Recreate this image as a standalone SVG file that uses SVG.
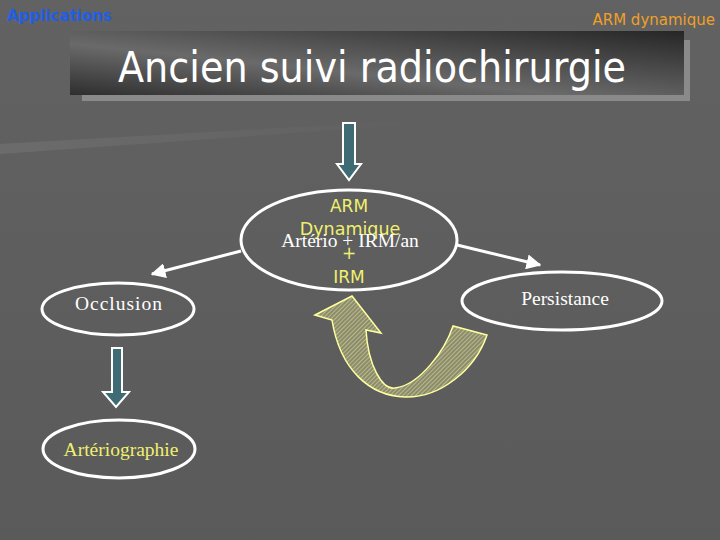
<svg xmlns="http://www.w3.org/2000/svg" width="720" height="540" viewBox="0 0 720 540">
<style>
.node{fill:none;stroke:#ffffff;stroke-width:3}
.serif{font-family:"Liberation Serif","DejaVu Serif",serif;font-size:19.5px;text-anchor:middle}
.sans{font-family:"DejaVu Sans","Liberation Sans",sans-serif;text-anchor:middle}
.conn{stroke:#ffffff;stroke-width:3;fill:none}
.block{fill:#3e6b74;stroke:#ffffff;stroke-width:2}
</style>
<defs>
<linearGradient id="bg" x1="0" y1="0" x2="0" y2="1">
<stop offset="0" stop-color="#626262"/>
<stop offset="1" stop-color="#5a5a5a"/>
</linearGradient>
<linearGradient id="band" x1="0" y1="0" x2="1" y2="0">
<stop offset="0" stop-color="#7a7a7a" stop-opacity="0.45"/>
<stop offset="1" stop-color="#7a7a7a" stop-opacity="0"/>
</linearGradient>
<linearGradient id="title" x1="0" y1="1" x2="1" y2="0">
<stop offset="0" stop-color="#2e2e2e"/>
<stop offset="0.4" stop-color="#6a6a6a"/>
<stop offset="1" stop-color="#262626"/>
</linearGradient>
<pattern id="hatch" width="3" height="3" patternUnits="userSpaceOnUse" patternTransform="rotate(45)">
<rect width="3" height="3" fill="#8c8c6c"/>
<line x1="0" y1="0" x2="0" y2="3" stroke="#d8d8a0" stroke-width="1.2"/>
</pattern>
<marker id="ah" viewBox="0 0 10 10" refX="9" refY="5" markerWidth="5" markerHeight="5" orient="auto" markerUnits="strokeWidth">
<path d="M0,0 L10,5 L0,10 Z" fill="#ffffff"/>
</marker>
</defs>
<rect width="720" height="540" fill="url(#bg)"/>
<polygon points="0,144 420,120 420,124 0,154" fill="url(#band)"/>

<text x="7" y="21" font-family="'DejaVu Sans','Liberation Sans',sans-serif" font-weight="bold" font-size="15" fill="#1f5ee6">Applications</text>
<text x="715" y="25" text-anchor="end" font-family="'DejaVu Sans','Liberation Sans',sans-serif" font-size="15" fill="#f0a028">ARM dynamique</text>

<g id="title-box">
<rect x="82" y="40" width="608" height="61" fill="#8a8a8a"/>
<rect x="70" y="31" width="614" height="64" fill="url(#title)"/>
<text x="118" y="82" font-family="'DejaVu Sans','Liberation Sans',sans-serif" font-size="43" fill="#ffffff" textLength="508" lengthAdjust="spacingAndGlyphs">Ancien suivi radiochirurgie</text>
</g>

<g id="connectors">
<path class="block" d="M343,123 H355 V164 H361 L349,180 L337,164 H343 Z"/>
<line class="conn" x1="241" y1="251" x2="152" y2="274" marker-end="url(#ah)"/>
<line class="conn" x1="457" y1="245" x2="540" y2="265" marker-end="url(#ah)"/>
<path class="block" d="M112,348 H122 V392 H129 L116,407 L103,392 H112 Z"/>
<path d="M315,315 L352,296 L381,333 L366,330 C368,365 382,390 395,388 C420,385 445,350 453,326 L487,335 C475,370 440,398 405,397 C370,396 340,370 332,320 Z" fill="url(#hatch)" stroke="#ffffa0" stroke-width="1.5"/>
</g>

<g id="node-center">
<ellipse class="node" cx="349" cy="240" rx="108" ry="50"/>
<text class="sans" x="349" y="212" font-size="17" fill="#f0f070">ARM</text>
<text class="sans" x="350" y="235" font-size="17.5" fill="#f0f070">Dynamique</text>
<text class="sans" x="349" y="259" font-size="17" fill="#f0f070">+</text>
<text class="sans" x="349" y="283" font-size="17" fill="#f0f070">IRM</text>
<text class="serif" x="350" y="247" fill="#ffffff">Artério + IRM/an</text>
</g>

<g id="node-occlusion">
<ellipse class="node" cx="118" cy="309" rx="76" ry="26"/>
<text class="serif" x="119" y="310" font-size="18" fill="#ffffff" letter-spacing="1">Occlusion</text>
</g>

<g id="node-arterio">
<ellipse class="node" cx="119" cy="449" rx="76" ry="29"/>
<text class="serif" x="121" y="456" fill="#f0f070">Artériographie</text>
</g>

<g id="node-persistance">
<ellipse class="node" cx="562" cy="301" rx="100" ry="29"/>
<text class="serif" x="565" y="305" fill="#ffffff">Persistance</text>
</g>
</svg>
